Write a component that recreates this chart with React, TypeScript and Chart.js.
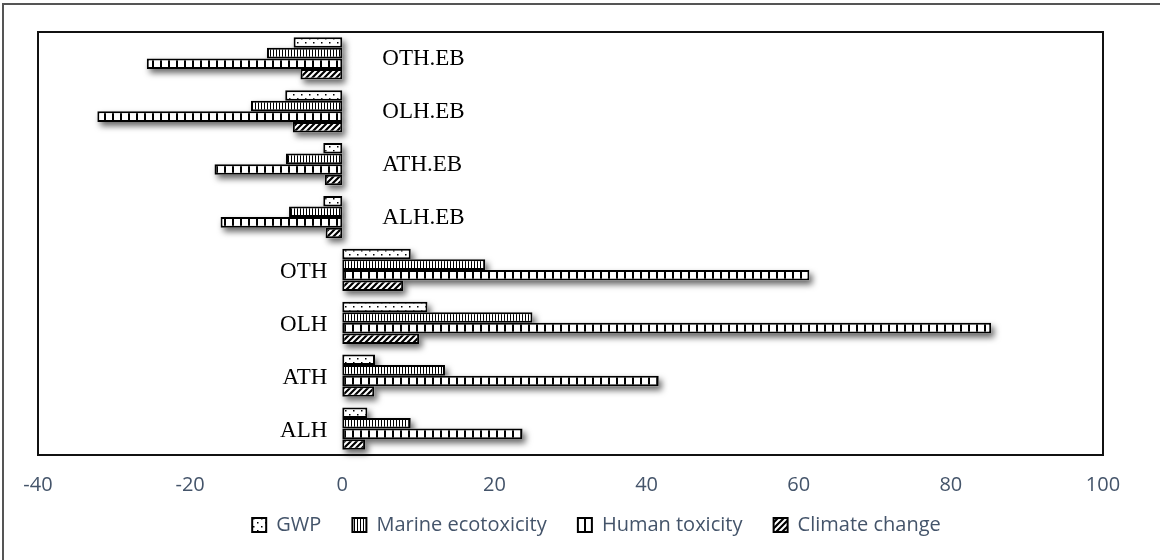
import React, { useEffect, useRef } from 'react';
import { Chart, registerables } from 'chart.js';

Chart.register(...registerables);

// ---- data ----
const categories = ['OTH.EB', 'OLH.EB', 'ATH.EB', 'ALH.EB', 'OTH', 'OLH', 'ATH', 'ALH'];
const seriesNames = ['GWP', 'Marine ecotoxicity', 'Human toxicity', 'Climate change'];
const gwp = [-6.4, -7.5, -2.5, -2.5, 9.0, 11.2, 4.3, 3.3];
const marineEcotoxicity = [-9.9, -12.0, -7.4, -7.0, 18.8, 25.0, 13.5, 9.0];
const humanToxicity = [-25.7, -32.2, -16.8, -16.0, 61.4, 85.3, 41.6, 23.7];
const climateChange = [-5.5, -6.5, -2.3, -2.2, 8.0, 10.1, 4.2, 3.0];
const xTicks = [-40, -20, 0, 20, 40, 60, 80, 100];

const TEXT_COLOR = '#44546A';
const SANS = '"Open Sans", "Liberation Sans", sans-serif';
const SERIF = '"Liberation Serif", "DejaVu Serif", serif';

function makePattern(kind: string): CanvasPattern | string {
  const c = document.createElement('canvas');
  const g = c.getContext('2d');
  if (!g) return '#fff';
  if (kind === 'dots') {
    c.width = 8; c.height = 8;
    g.fillStyle = '#fff'; g.fillRect(0, 0, 8, 8);
    g.fillStyle = '#000';
    g.fillRect(1, 2, 1.5, 1.5);
    g.fillRect(5, 6, 1.5, 1.5);
  } else if (kind === 'vlines') {
    c.width = 3; c.height = 4;
    g.fillStyle = '#fff'; g.fillRect(0, 0, 3, 4);
    g.fillStyle = '#000'; g.fillRect(0, 0, 1, 4);
  } else if (kind === 'bricks') {
    c.width = 8; c.height = 4;
    g.fillStyle = '#fff'; g.fillRect(0, 0, 8, 4);
    g.fillStyle = '#000'; g.fillRect(0, 0, 2, 4);
  } else {
    c.width = 6; c.height = 6;
    g.fillStyle = '#fff'; g.fillRect(0, 0, 6, 6);
    g.strokeStyle = '#000'; g.lineWidth = 2.2;
    g.beginPath();
    g.moveTo(-1, 7); g.lineTo(7, -1);
    g.moveTo(-4, 4); g.lineTo(4, -4);
    g.moveTo(2, 10); g.lineTo(10, 2);
    g.stroke();
  }
  return g.createPattern(c, 'repeat') || '#fff';
}

const framePlugin = {
  id: 'frame',
  beforeDraw(chart: any) {
    const ctx = chart.ctx;
    ctx.save();
    ctx.fillStyle = '#fff';
    ctx.fillRect(0, 0, chart.width, chart.height);
    ctx.strokeStyle = '#555';
    ctx.lineWidth = 2;
    ctx.beginPath();
    ctx.moveTo(3, chart.height);
    ctx.lineTo(3, 4);
    ctx.lineTo(chart.width, 4);
    ctx.stroke();
    const a = chart.chartArea;
    ctx.strokeStyle = '#111';
    ctx.lineWidth = 2;
    ctx.strokeRect(a.left, a.top, a.right - a.left, a.bottom - a.top);
    ctx.restore();
  },
};

const shadowPlugin = {
  id: 'barShadow',
  beforeDatasetsDraw(chart: any) {
    const ctx = chart.ctx;
    ctx.save();
    ctx.shadowColor = 'rgba(0,0,0,0.6)';
    ctx.shadowBlur = 6;
    ctx.shadowOffsetX = 3;
    ctx.shadowOffsetY = 4;
    ctx.fillStyle = '#fff';
    chart.data.datasets.forEach((_: any, i: number) => {
      const meta = chart.getDatasetMeta(i);
      meta.data.forEach((el: any) => {
        const p = el.getProps(['x', 'y', 'base', 'height'], true);
        const l = Math.min(p.x, p.base);
        const r = Math.max(p.x, p.base);
        ctx.fillRect(l, p.y - p.height / 2, r - l, p.height);
      });
    });
    ctx.restore();
  },
};

const categoryLabelPlugin = {
  id: 'categoryLabels',
  afterDatasetsDraw(chart: any) {
    const ctx = chart.ctx;
    const xs = chart.scales.x;
    const ys = chart.scales.y;
    const zero = xs.getPixelForValue(0);
    ctx.save();
    ctx.font = `23px ${SERIF}`;
    ctx.fillStyle = '#000';
    ctx.textBaseline = 'middle';
    (chart.data.labels as string[]).forEach((label: string, i: number) => {
      const neg = humanToxicity[i] < 0;
      const y = ys.getPixelForValue(i) + (neg ? 1 : 2);
      ctx.textAlign = neg ? 'left' : 'right';
      ctx.fillText(label, neg ? zero + 40 : zero - 15, y);
    });
    ctx.restore();
  },
};

export default function App() {
  const ref = useRef<HTMLCanvasElement>(null);

  useEffect(() => {
    if (!ref.current) return;
    const patterns = [makePattern('dots'), makePattern('vlines'), makePattern('bricks'), makePattern('diag')];
    const values = [gwp, marineEcotoxicity, humanToxicity, climateChange];
    const chart = new Chart(ref.current, {
      type: 'bar',
      data: {
        labels: categories,
        datasets: seriesNames.map((name, i) => ({
          label: name,
          data: values[i],
          backgroundColor: patterns[i] as any,
          borderColor: '#000',
          borderWidth: 2,
          borderSkipped: false,
          categoryPercentage: 0.8,
          barPercentage: 1.0,
        })),
      },
      options: {
        indexAxis: 'y',
        animation: false,
        responsive: false,
        devicePixelRatio: 1,
        events: [],
        layout: { padding: { left: 38, top: 32, right: 5, bottom: 15 } },
        scales: {
          x: {
            type: 'linear',
            position: 'bottom',
            min: xTicks[0],
            max: xTicks[xTicks.length - 1],
            grid: { display: false, drawTicks: false },
            border: { display: false },
            ticks: {
              stepSize: xTicks[1] - xTicks[0],
              padding: 18,
              color: TEXT_COLOR,
              font: { family: SANS, size: 20 },
            },
          },
          y: {
            position: 'right',
            grid: { display: false, drawTicks: false },
            border: { display: false },
            ticks: { display: false },
            afterFit: (s: any) => { s.width = 52; },
          },
        },
        plugins: {
          tooltip: { enabled: false },
          legend: {
            position: 'bottom',
            labels: {
              boxWidth: 14,
              boxHeight: 14,
              padding: 0,
              color: TEXT_COLOR,
              font: { family: SANS, size: 20 },
              generateLabels: (ch: any) => {
                const items = (Chart.defaults.plugins.legend.labels as any).generateLabels(ch);
                return items.map((it: any, i: number) => ({
                  ...it,
                  text: i < items.length - 1 ? it.text + '      ' : it.text,
                }));
              },
            },
          },
        },
      },
      plugins: [framePlugin, shadowPlugin, categoryLabelPlugin],
    } as any);
    return () => chart.destroy();
  }, []);

  return (
    <div style={{ position: 'fixed', left: 0, top: 0, width: 1160, height: 560, background: '#fff' }}>
      <canvas ref={ref} width={1160} height={560} style={{ display: 'block', width: 1160, height: 560 }} />
    </div>
  );
}
